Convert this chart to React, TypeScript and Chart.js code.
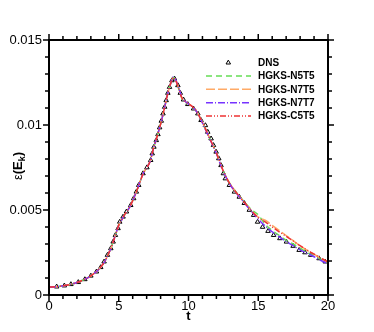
import { useEffect, useRef } from 'react';
import { Chart, registerables } from 'chart.js';

Chart.register(...registerables);

// ---- data ----
const xTickLabels = [0, 5, 10, 15, 20];
const yTickLabels = [0, 0.005, 0.01, 0.015];

const lineT = [0, 0.5, 1, 1.5, 2, 2.5, 3, 3.5, 4, 4.25, 4.5, 4.75, 5, 5.25, 5.5, 5.75, 6, 6.25, 6.5, 6.75, 7, 7.25, 7.5, 7.75, 8, 8.25, 8.5, 8.75, 8.9, 9.1, 9.3, 9.5, 9.75, 10, 10.5, 11, 11.5, 12, 12.5, 13, 13.5, 14, 14.5, 15, 15.5, 16, 16.5, 17, 17.5, 18, 18.5, 19, 19.5, 20];

const n5t5 = [0.00047, 0.00049, 0.00054, 0.00062, 0.00074, 0.0009, 0.00113, 0.00146, 0.00198, 0.0024, 0.00289, 0.0035, 0.0041, 0.00448, 0.00483, 0.00512, 0.00555, 0.00605, 0.0066, 0.00715, 0.00748, 0.00787, 0.00866, 0.00932, 0.01005, 0.0109, 0.0118, 0.01252, 0.0128, 0.0126, 0.01212, 0.01162, 0.01136, 0.01122, 0.01088, 0.01015, 0.00925, 0.00835, 0.00728, 0.0065, 0.00597, 0.00548, 0.00503, 0.00472, 0.00415, 0.0038, 0.0035, 0.00322, 0.003, 0.00275, 0.0025, 0.0023, 0.0021, 0.0019];
const n7t5 = [0.00047, 0.00049, 0.00054, 0.00062, 0.00074, 0.0009, 0.00113, 0.00146, 0.00198, 0.0024, 0.00289, 0.0035, 0.0041, 0.00448, 0.00483, 0.00512, 0.00555, 0.00605, 0.0066, 0.00715, 0.00748, 0.00787, 0.00866, 0.00932, 0.01005, 0.0109, 0.0118, 0.01252, 0.0128, 0.0126, 0.01215, 0.01165, 0.0114, 0.01125, 0.0109, 0.01015, 0.00925, 0.00835, 0.00728, 0.0065, 0.00595, 0.00545, 0.00497, 0.00458, 0.0044, 0.0041, 0.0038, 0.0035, 0.0032, 0.0029, 0.00263, 0.0024, 0.00216, 0.00195];
const n7t7 = [0.00047, 0.00049, 0.00054, 0.00062, 0.00074, 0.0009, 0.00113, 0.00146, 0.00198, 0.0024, 0.00289, 0.0035, 0.0041, 0.00448, 0.00483, 0.00512, 0.00555, 0.00605, 0.0066, 0.00715, 0.00748, 0.00787, 0.00866, 0.00932, 0.01005, 0.0109, 0.0118, 0.01252, 0.01282, 0.01262, 0.01218, 0.01167, 0.0114, 0.01124, 0.01088, 0.01012, 0.00922, 0.00832, 0.00725, 0.00647, 0.00592, 0.00542, 0.00493, 0.00446, 0.00405, 0.00372, 0.00342, 0.00315, 0.0029, 0.00265, 0.00245, 0.00225, 0.00203, 0.00183];
const c5t5 = [0.00047, 0.00049, 0.00054, 0.00062, 0.00074, 0.0009, 0.00113, 0.00146, 0.00198, 0.0024, 0.00289, 0.0035, 0.0041, 0.00448, 0.00483, 0.00512, 0.00555, 0.00605, 0.0066, 0.00715, 0.00748, 0.00787, 0.00866, 0.00932, 0.01005, 0.0109, 0.0118, 0.01252, 0.0128, 0.0126, 0.01215, 0.01165, 0.0114, 0.01125, 0.0109, 0.01015, 0.00925, 0.00835, 0.00728, 0.0065, 0.00595, 0.00545, 0.00497, 0.00455, 0.0043, 0.004, 0.00372, 0.00345, 0.00318, 0.0029, 0.00264, 0.0024, 0.00216, 0.00194];

const dnsT = [0.55, 1.1, 1.57, 2.1, 2.57, 3.0, 3.4, 3.71, 3.95, 4.19, 4.43, 4.6, 4.76, 4.95, 5.07, 5.31, 5.55, 5.86, 6.07, 6.26, 6.43, 6.74, 7.02, 7.29, 7.4, 7.52, 7.69, 7.81, 7.93, 8.05, 8.17, 8.29, 8.4, 8.52, 8.64, 8.81, 9.0, 9.24, 9.41, 9.64, 9.95, 10.36, 10.67, 10.9, 11.21, 11.38, 11.62, 11.79, 11.98, 12.17, 12.33, 12.5, 12.64, 12.93, 13.29, 13.64, 14.0, 14.36, 14.67, 14.95, 15.31, 15.7, 16.1, 16.55, 17.02, 17.5, 17.93, 18.35, 18.76, 19.36, 19.8];
const dnsE = [0.00049, 0.00055, 0.00063, 0.00075, 0.00092, 0.00113, 0.00137, 0.00163, 0.00196, 0.00235, 0.00274, 0.00313, 0.00352, 0.00392, 0.0043, 0.0046, 0.0049, 0.00528, 0.00568, 0.00607, 0.00646, 0.00715, 0.0075, 0.00793, 0.00832, 0.00871, 0.0091, 0.00945, 0.00985, 0.01024, 0.01067, 0.01106, 0.01145, 0.01188, 0.01223, 0.01262, 0.01272, 0.01233, 0.01188, 0.01149, 0.01122, 0.01096, 0.01067, 0.01028, 0.00998, 0.00959, 0.0092, 0.00881, 0.00842, 0.00803, 0.00763, 0.00715, 0.00685, 0.00646, 0.00607, 0.00577, 0.0054, 0.005, 0.0047, 0.0043, 0.004, 0.00376, 0.00352, 0.00333, 0.00313, 0.00288, 0.00264, 0.0025, 0.00235, 0.00215, 0.00196];

const seriesNames = ['DNS', 'HGKS-N5T5', 'HGKS-N7T5', 'HGKS-N7T7', 'HGKS-C5T5'];
const seriesColors = ['#000000', '#66dd55', '#ffaa66', '#7733ff', '#ee3333'];
const seriesDashes = [[], [6, 4], [9, 3], [7, 2, 1, 2], [6, 2, 1, 2, 1, 2]];

const FONT = '"Liberation Sans", Arial, Helvetica, sans-serif';

const pts = (xs: number[], ys: number[]) => xs.map((x, i) => ({ x, y: ys[i] }));

const framePlugin = {
  id: 'frame',
  afterDraw(chart: any) {
    const { ctx, chartArea: a, scales } = chart;
    const sx = scales.x;
    const sy = scales.y;
    ctx.save();
    ctx.strokeStyle = '#000';
    ctx.lineWidth = 2;
    ctx.strokeRect(a.left, a.top, a.right - a.left, a.bottom - a.top);
    ctx.lineWidth = 1.5;
    ctx.beginPath();
    for (let v = 0; v <= 20; v += 1) {
      const px = sx.getPixelForValue(v);
      const len = v % 5 === 0 ? 6 : 4;
      ctx.moveTo(px, a.bottom);
      ctx.lineTo(px, a.bottom + len);
      ctx.moveTo(px, a.top);
      ctx.lineTo(px, a.top - len);
    }
    for (let i = 0; i <= 15; i += 1) {
      const py = sy.getPixelForValue(i / 1000);
      const len = i % 5 === 0 ? 6 : 4;
      ctx.moveTo(a.left, py);
      ctx.lineTo(a.left - len, py);
      ctx.moveTo(a.right, py);
      ctx.lineTo(a.right + len, py);
    }
    ctx.stroke();

    // axis titles
    ctx.fillStyle = '#000';
    ctx.font = `bold 13px ${FONT}`;
    ctx.textAlign = 'center';
    ctx.textBaseline = 'alphabetic';
    ctx.fillText('t', (a.left + a.right) / 2, 320);

    ctx.translate(22, 166);
    ctx.rotate(-Math.PI / 2);
    const parts = [
      { t: 'ε', f: `13px ${FONT}`, dy: 0 },
      { t: '(E', f: `bold 13px ${FONT}`, dy: 0 },
      { t: 'k', f: `bold 9px ${FONT}`, dy: 3 },
      { t: ')', f: `bold 13px ${FONT}`, dy: 0 },
    ];
    let total = 0;
    for (const p of parts) {
      ctx.font = p.f;
      total += ctx.measureText(p.t).width;
    }
    let cx = -total / 2;
    ctx.textAlign = 'left';
    for (const p of parts) {
      ctx.font = p.f;
      ctx.fillText(p.t, cx, p.dy);
      cx += ctx.measureText(p.t).width;
    }
    ctx.restore();
  },
};

const legendPlugin = {
  id: 'customLegend',
  afterDraw(chart: any) {
    const { ctx } = chart;
    ctx.save();
    chart.data.datasets.forEach((ds: any, i: number) => {
      const y = 62.7 + i * 13.33;
      if (ds.showLine === false) {
        const cx = 228.3;
        const r = 2.6;
        ctx.beginPath();
        ctx.moveTo(cx, y - r);
        ctx.lineTo(cx + r * 0.866, y + r * 0.5);
        ctx.lineTo(cx - r * 0.866, y + r * 0.5);
        ctx.closePath();
        ctx.strokeStyle = ds.pointBorderColor;
        ctx.lineWidth = 1;
        ctx.setLineDash([]);
        ctx.stroke();
      } else {
        ctx.beginPath();
        ctx.strokeStyle = ds.borderColor;
        ctx.lineWidth = ds.borderWidth;
        ctx.setLineDash(ds.borderDash || []);
        ctx.moveTo(206, y);
        ctx.lineTo(251, y);
        ctx.stroke();
      }
      ctx.setLineDash([]);
      ctx.fillStyle = '#000';
      ctx.font = `bold 10px ${FONT}`;
      ctx.textAlign = 'left';
      ctx.textBaseline = 'middle';
      ctx.fillText(ds.label, 258, y + 0.5);
    });
    ctx.restore();
  },
};

export default function App() {
  const ref = useRef<HTMLCanvasElement>(null);
  useEffect(() => {
    document.body.style.margin = '0';
    const lineSets = [n5t5, n7t5, n7t7, c5t5];
    const datasets: any[] = [
      {
        label: seriesNames[0],
        data: pts(dnsT, dnsE),
        showLine: false,
        pointStyle: 'triangle',
        pointRadius: 2.6,
        pointBorderWidth: 1,
        pointBorderColor: seriesColors[0],
        pointBackgroundColor: 'rgba(0,0,0,0)',
        order: 5,
      },
      ...lineSets.map((vals, k) => ({
        label: seriesNames[k + 1],
        data: pts(lineT, vals),
        showLine: true,
        borderColor: seriesColors[k + 1],
        borderWidth: 1.5,
        borderDash: seriesDashes[k + 1],
        pointRadius: 0,
        fill: false,
        cubicInterpolationMode: 'monotone',
        order: 4 - k,
      })),
    ];
    const chart = new Chart(ref.current as HTMLCanvasElement, {
      type: 'scatter',
      data: { datasets },
      options: {
        animation: false,
        responsive: false,
        layout: { padding: { top: 40, right: 46, left: 0, bottom: 0 } },
        plugins: { legend: { display: false }, tooltip: { enabled: false } },
        scales: {
          x: {
            type: 'linear',
            min: 0,
            max: 20,
            afterBuildTicks: (s: any) => {
              s.ticks = xTickLabels.map((v) => ({ value: v }));
            },
            afterFit: (s: any) => {
              s.height = 37;
            },
            ticks: {
              color: '#000',
              font: { family: FONT, size: 13 },
              padding: 4,
              maxRotation: 0,
              autoSkip: false,
              callback: (v: any) => String(v),
            },
            grid: { display: false, drawTicks: false },
            border: { display: false },
          },
          y: {
            type: 'linear',
            min: 0,
            max: 0.015,
            afterBuildTicks: (s: any) => {
              s.ticks = yTickLabels.map((v) => ({ value: v }));
            },
            afterFit: (s: any) => {
              s.width = 49;
            },
            ticks: {
              color: '#000',
              font: { family: FONT, size: 13 },
              padding: 7,
              autoSkip: false,
              callback: (v: any) => String(Number(Number(v).toFixed(3))),
            },
            grid: { display: false, drawTicks: false },
            border: { display: false },
          },
        },
      },
      plugins: [framePlugin, legendPlugin],
    });
    return () => chart.destroy();
  }, []);
  return (
    <div style={{ width: 374, height: 332 }}>
      <canvas ref={ref} width={374} height={332} style={{ display: 'block' }} />
    </div>
  );
}
